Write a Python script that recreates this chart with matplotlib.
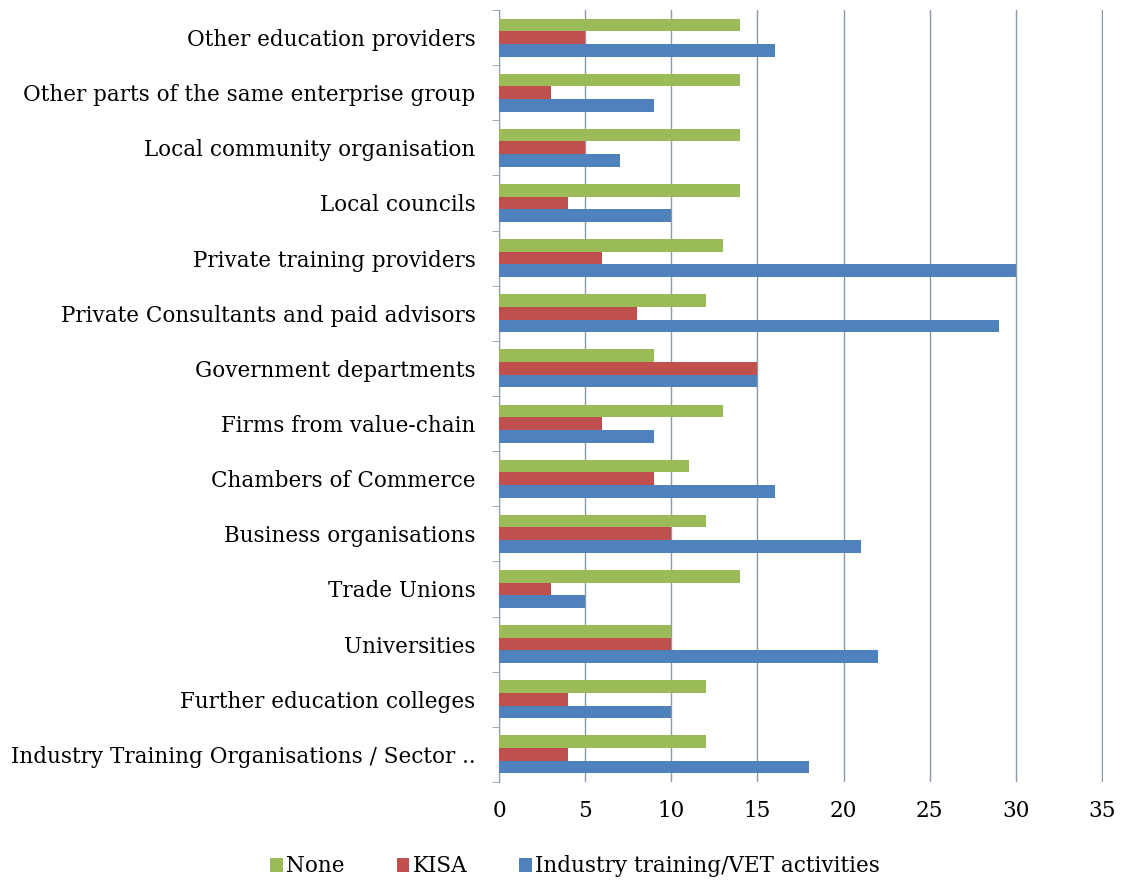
import numpy as np
import matplotlib.pyplot as plt

categories = [
    "Industry Training Organisations / Sector ..",
    "Further education colleges",
    "Universities",
    "Trade Unions",
    "Business organisations",
    "Chambers of Commerce",
    "Firms from value-chain",
    "Government departments",
    "Private Consultants and paid advisors",
    "Private training providers",
    "Local councils",
    "Local community organisation",
    "Other parts of the same enterprise group",
    "Other education providers",
]
none_vals = [12, 12, 10, 14, 12, 11, 13, 9, 12, 13, 14, 14, 14, 14]
kisa_vals = [4, 4, 10, 3, 10, 9, 6, 15, 8, 6, 4, 5, 3, 5]
industry_vals = [18, 10, 22, 5, 21, 16, 9, 15, 29, 30, 10, 7, 9, 16]

plt.rcParams['font.family'] = ['DejaVu Serif']

fig = plt.figure(figsize=(11.25, 8.82), dpi=100)
ax = fig.add_axes([0.4436, 0.1134, 0.5364, 0.8753])

y = np.arange(len(categories))
h = 0.23
ax.barh(y + h, none_vals, height=h, color='#9BBB59', label='None', zorder=3)
ax.barh(y, kisa_vals, height=h, color='#C0504D', label='KISA', zorder=3)
ax.barh(y - h, industry_vals, height=h, color='#4F81BD',
        label='Industry training/VET activities', zorder=3)

ax.set_xlim(0, 35.03)
ax.set_ylim(-0.5, len(categories) - 0.5)
ax.set_xticks(range(0, 36, 5))
ax.xaxis.grid(True, color='#8E99A6', linewidth=1)
ax.set_axisbelow(True)
ax.set_yticks(y)
ax.set_yticklabels(categories)
ax.set_yticks(np.arange(-0.5, len(categories)), minor=True)
ax.tick_params(axis='y', which='major', length=0, pad=17, labelsize=15.5)
ax.tick_params(axis='y', which='minor', length=5, direction='out', color='#8E99A6')
ax.tick_params(axis='x', length=0, pad=13, labelsize=15.5)
for s in ['top', 'right', 'bottom']:
    ax.spines[s].set_visible(False)
ax.spines['left'].set_color('#8E99A6')

leg = ax.legend(loc='upper center', bbox_to_anchor=(0.126, -0.07), ncol=3,
                frameon=False, fontsize=15.5, handlelength=0.6, handleheight=0.6,
                handletextpad=0.15, columnspacing=2.4)

fig.savefig('out.png', dpi=100)
